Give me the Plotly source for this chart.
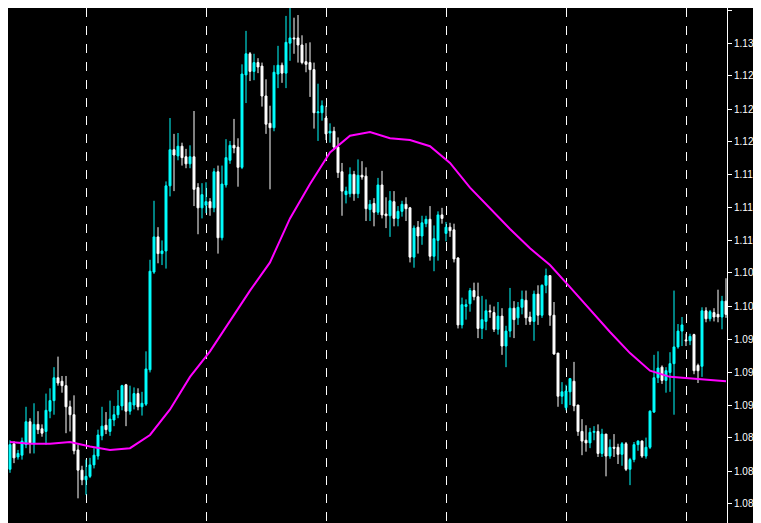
import plotly.graph_objects as go

# OHLC data, one candle per bar
opens = [1.0841, 1.0870, 1.0855, 1.0857, 1.0869, 1.0895, 1.0870, 1.0892, 1.0887, 1.0884,
         1.0907, 1.0919, 1.0945, 1.0941, 1.0936, 1.0912, 1.0903, 1.0863, 1.0840, 1.0829,
         1.0833, 1.0846, 1.0856, 1.0879, 1.0891, 1.0884, 1.0897, 1.0903, 1.0913, 1.0937,
         1.0907, 1.0914, 1.0927, 1.0912, 1.0915, 1.0954, 1.1065, 1.1105, 1.1086, 1.1089,
         1.1163, 1.1204, 1.1197, 1.1208, 1.1196, 1.1188, 1.1196, 1.1161, 1.1138, 1.1141,
         1.1145, 1.1138, 1.1179, 1.1104, 1.1164, 1.1192, 1.1209, 1.1207, 1.1184, 1.1289,
         1.1313, 1.1293, 1.1303, 1.1299, 1.1265, 1.1234, 1.1229, 1.1290, 1.1300, 1.1291,
         1.1325, 1.1331, 1.1331, 1.1323, 1.1304, 1.1303, 1.1295, 1.1246, 1.1246, 1.1240,
         1.1223, 1.1225, 1.1207, 1.1179, 1.1153, 1.1154, 1.1176, 1.1154, 1.1175, 1.1174,
         1.1136, 1.1143, 1.1133, 1.1164, 1.1131, 1.1129, 1.1145, 1.1126, 1.1134, 1.1142,
         1.1138, 1.1082, 1.1116, 1.1106, 1.1120, 1.1125, 1.1083, 1.1101, 1.1130, 1.1109,
         1.1116, 1.1113, 1.1081, 1.1005, 1.1026, 1.1029, 1.1044, 1.1037, 1.1001, 1.1009,
         1.1021, 1.1019, 1.1000, 1.1015, 1.0981, 1.0998, 1.1024, 1.1013, 1.1025, 1.1033,
         1.1014, 1.1009, 1.1040, 1.1016, 1.1050, 1.1061, 1.1016, 1.0973, 1.0924, 1.0911,
         1.0929, 1.0941, 1.0914, 1.0884, 1.0874, 1.0871, 1.0883, 1.0884, 1.0859, 1.0881,
         1.0856, 1.0866, 1.0866, 1.0858, 1.0870, 1.0841, 1.0852, 1.0869, 1.0873, 1.0856,
         1.0866, 1.0906, 1.0945, 1.0957, 1.0942, 1.0951, 1.0961, 1.0980, 1.0998, 1.0988,
         1.0987, 1.0994, 1.0959, 1.0958, 1.1021, 1.1012, 1.1019, 1.1017, 1.1014, 1.1032]
highs = [1.0874, 1.0873, 1.0863, 1.0877, 1.0912, 1.0899, 1.0916, 1.0907, 1.0892, 1.0927,
         1.0933, 1.0957, 1.0969, 1.0947, 1.0947, 1.0919, 1.0925, 1.0869, 1.0845, 1.0852,
         1.0854, 1.0865, 1.0886, 1.0912, 1.0906, 1.0919, 1.0913, 1.0931, 1.0937, 1.0938,
         1.0936, 1.0934, 1.0933, 1.0929, 1.0975, 1.1079, 1.1146, 1.1116, 1.1101, 1.1168,
         1.1240, 1.1222, 1.1223, 1.1212, 1.1205, 1.1209, 1.1248, 1.1166, 1.1166, 1.1167,
         1.1149, 1.1183, 1.1186, 1.1186, 1.1216, 1.1214, 1.1239, 1.1217, 1.1301, 1.1339,
         1.1315, 1.1313, 1.1308, 1.1303, 1.1284, 1.1254, 1.1300, 1.1322, 1.1303, 1.1356,
         1.1365, 1.1354, 1.1357, 1.1334, 1.1325, 1.1326, 1.1303, 1.1279, 1.1260, 1.1254,
         1.1234, 1.1230, 1.1218, 1.1189, 1.1162, 1.1184, 1.1180, 1.1193, 1.1191, 1.1184,
         1.1147, 1.1149, 1.1172, 1.1180, 1.1150, 1.1157, 1.1157, 1.1140, 1.1146, 1.1150,
         1.1139, 1.1118, 1.1123, 1.1129, 1.1129, 1.1140, 1.1118, 1.1134, 1.1138, 1.1122,
         1.1121, 1.1120, 1.1082, 1.1036, 1.1034, 1.1047, 1.1053, 1.1053, 1.1038, 1.1034,
         1.1028, 1.1026, 1.1031, 1.1024, 1.1004, 1.1047, 1.1032, 1.1031, 1.1044, 1.1044,
         1.1020, 1.1044, 1.1050, 1.1051, 1.1069, 1.1061, 1.1031, 1.0973, 1.0940, 1.0937,
         1.0944, 1.0963, 1.0914, 1.0898, 1.0891, 1.0888, 1.0890, 1.0892, 1.0887, 1.0881,
         1.0875, 1.0881, 1.0870, 1.0872, 1.0872, 1.0854, 1.0872, 1.0874, 1.0874, 1.0877,
         1.0908, 1.0971, 1.0975, 1.0959, 1.0957, 1.0974, 1.1044, 1.1006, 1.1014, 1.0995,
         1.0995, 1.0995, 1.0961, 1.1025, 1.1025, 1.1022, 1.1024, 1.1045, 1.1038, 1.1058]
lows = [1.0837, 1.0848, 1.0852, 1.0852, 1.0865, 1.0859, 1.0859, 1.0881, 1.0878, 1.0869,
        1.0899, 1.0903, 1.0936, 1.0928, 1.0882, 1.0884, 1.0858, 1.0808, 1.0823, 1.0812,
        1.0831, 1.0842, 1.0852, 1.0874, 1.0881, 1.0879, 1.0890, 1.0899, 1.0908, 1.0890,
        1.0903, 1.0909, 1.0908, 1.0902, 1.0913, 1.0951, 1.1063, 1.1075, 1.1073, 1.1069,
        1.1151, 1.1157, 1.1192, 1.1186, 1.1183, 1.1183, 1.1140, 1.1108, 1.1126, 1.1132,
        1.1129, 1.1133, 1.1086, 1.1101, 1.1161, 1.1188, 1.1200, 1.1162, 1.1182, 1.1257,
        1.1282, 1.1283, 1.1291, 1.1253, 1.1222, 1.1159, 1.1225, 1.1274, 1.1280, 1.1274,
        1.1305, 1.1313, 1.1303, 1.1301, 1.1292, 1.1264, 1.1228, 1.1214, 1.1237, 1.1215,
        1.1212, 1.1204, 1.1172, 1.1129, 1.1143, 1.1150, 1.1146, 1.1149, 1.1170, 1.1123,
        1.1123, 1.1117, 1.1130, 1.1126, 1.1115, 1.1105, 1.1117, 1.1117, 1.1128, 1.1123,
        1.1076, 1.1070, 1.1086, 1.1096, 1.1116, 1.1078, 1.1066, 1.1078, 1.1120, 1.1100,
        1.1105, 1.1076, 1.1001, 1.1001, 1.1011, 1.1020, 1.1033, 1.0990, 1.0989, 1.0999,
        1.1013, 1.0997, 1.0994, 1.0971, 1.0957, 1.0991, 1.0990, 1.1005, 1.1017, 1.1005,
        1.1005, 1.0987, 1.1005, 1.1013, 1.1041, 1.1004, 1.0971, 1.0912, 1.0915, 1.0908,
        1.0914, 1.0907, 1.0879, 1.0857, 1.0861, 1.0865, 1.0874, 1.0855, 1.0855, 1.0833,
        1.0853, 1.0855, 1.0847, 1.0845, 1.0839, 1.0823, 1.0849, 1.0862, 1.0854, 1.0853,
        1.0864, 1.0905, 1.0939, 1.0938, 1.0928, 1.0929, 1.0903, 1.0978, 1.0981, 1.0981,
        1.0982, 1.0949, 1.0939, 1.0946, 1.1008, 1.1009, 1.1009, 1.1008, 1.1000, 1.1013]
closes = [1.0869, 1.0854, 1.0859, 1.0873, 1.0895, 1.0871, 1.0892, 1.0886, 1.0882, 1.0908,
          1.0919, 1.0945, 1.0939, 1.0936, 1.0912, 1.0903, 1.0862, 1.0840, 1.0829, 1.0833,
          1.0846, 1.0857, 1.0880, 1.0890, 1.0886, 1.0898, 1.0903, 1.0913, 1.0936, 1.0907,
          1.0917, 1.0927, 1.0912, 1.0916, 1.0955, 1.1066, 1.1105, 1.1086, 1.1089, 1.1163,
          1.1204, 1.1198, 1.1208, 1.1195, 1.1188, 1.1196, 1.1159, 1.1138, 1.1153, 1.1145,
          1.1138, 1.1179, 1.1104, 1.1165, 1.1195, 1.1209, 1.1206, 1.1184, 1.1290, 1.1313,
          1.1293, 1.1303, 1.1298, 1.1265, 1.1233, 1.1229, 1.1292, 1.1300, 1.1291, 1.1326,
          1.1331, 1.1330, 1.1323, 1.1303, 1.1301, 1.1295, 1.1246, 1.1247, 1.1254, 1.1222,
          1.1225, 1.1207, 1.1178, 1.1157, 1.1157, 1.1176, 1.1154, 1.1175, 1.1173, 1.1137,
          1.1142, 1.1133, 1.1164, 1.1130, 1.1129, 1.1146, 1.1126, 1.1134, 1.1142, 1.1137,
          1.1082, 1.1115, 1.1106, 1.1121, 1.1125, 1.1083, 1.1103, 1.1130, 1.1126, 1.1116,
          1.1112, 1.1080, 1.1005, 1.1028, 1.1028, 1.1044, 1.1037, 1.1001, 1.1011, 1.1021,
          1.1020, 1.1000, 1.1015, 1.0981, 1.0998, 1.1024, 1.1011, 1.1025, 1.1034, 1.1013,
          1.1009, 1.1040, 1.1016, 1.1050, 1.1061, 1.1016, 1.0972, 1.0924, 1.0929, 1.0930,
          1.0944, 1.0913, 1.0884, 1.0873, 1.0871, 1.0883, 1.0884, 1.0859, 1.0881, 1.0856,
          1.0866, 1.0865, 1.0858, 1.0870, 1.0841, 1.0852, 1.0869, 1.0873, 1.0856, 1.0866,
          1.0907, 1.0945, 1.0956, 1.0942, 1.0953, 1.0961, 1.0980, 1.0998, 1.1005, 1.0987,
          1.0992, 1.0953, 1.0953, 1.1021, 1.1012, 1.1020, 1.1014, 1.1014, 1.1032, 1.1017]

# Magenta moving average, sampled every 5 bars
ma_index = [0, 5, 10, 15, 20, 25, 30, 35, 40, 45, 50, 55, 60, 65, 70, 75, 80, 85, 90, 95,
            100, 105, 110, 115, 120, 125, 130, 135, 140, 145, 150, 155, 160, 165, 170, 175, 179]
ma_value = [1.0872, 1.0870, 1.0870, 1.0872, 1.0867, 1.0863, 1.0865, 1.0880, 1.0909, 1.0946,
            1.0975, 1.1009, 1.1044, 1.1076, 1.1126, 1.1165, 1.1201, 1.1220, 1.1224, 1.1217,
            1.1215, 1.1208, 1.1189, 1.1161, 1.1137, 1.1114, 1.1092, 1.1073, 1.1048, 1.1022,
            1.0997, 1.0973, 1.0953, 1.0946, 1.0944, 1.0942, 1.0941]

price_ticks = [1.13620, 1.13250, 1.12880, 1.12500, 1.12130, 1.11760, 1.11380, 1.11010,
               1.10640, 1.10260, 1.09890, 1.09510, 1.09140, 1.08770, 1.08390, 1.08020]
period_lines = [19, 49, 79, 109, 139, 169]

bars = list(range(len(closes)))

fig = go.Figure()

fig.add_trace(go.Candlestick(
    x=bars, open=opens, high=highs, low=lows, close=closes,
    increasing=dict(line=dict(color="#00ffff", width=1), fillcolor="#00ffff"),
    decreasing=dict(line=dict(color="#ffffff", width=1), fillcolor="#ffffff"),
    whiskerwidth=0,
    showlegend=False,
    hoverinfo="skip",
))

fig.add_trace(go.Scatter(
    x=ma_index, y=ma_value, mode="lines",
    line=dict(color="#ff00ff", width=2),
    showlegend=False, hoverinfo="skip",
))

fig.update_layout(
    width=761, height=523,
    margin=dict(l=0, r=42, t=0, b=0, autoexpand=False),
    paper_bgcolor="black",
    plot_bgcolor="black",
    font=dict(family="Liberation Sans", size=10, color="white"),
    xaxis=dict(
        range=[-0.5, 179.25],
        rangeslider=dict(visible=False),
        tickvals=period_lines,
        showticklabels=False,
        showgrid=True, gridcolor="white", griddash="dash", gridwidth=1,
        zeroline=False, showline=False,
    ),
    yaxis=dict(
        side="right",
        range=[1.07709, 1.1365],
        tickvals=price_ticks,
        ticktext=[f"{v:.5f}" for v in price_ticks],
        ticks="outside", ticklen=4, tickcolor="white",
        showgrid=False, zeroline=False,
        showline=True, linecolor="white", linewidth=1,
    ),
)

fig.write_html("out.html")
